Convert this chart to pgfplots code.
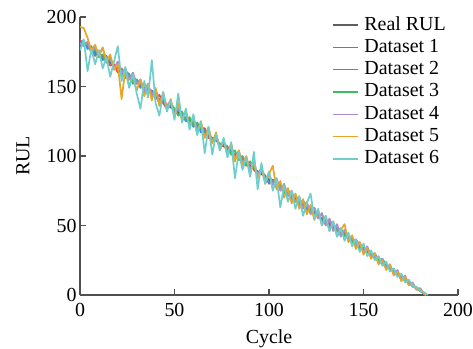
\documentclass[border=0pt]{standalone}
\usepackage{fontspec}
\setmainfont{Liberation Serif}
\usepackage{pgfplots}
\pgfplotsset{compat=1.18}
\definecolor{axgray}{RGB}{80,80,80}
\definecolor{cReal}{RGB}{95,95,95}
\definecolor{cA}{RGB}{235,75,70}
\definecolor{cB}{RGB}{58,143,219}
\definecolor{cC}{RGB}{60,190,90}
\definecolor{cD}{RGB}{170,140,210}
\definecolor{cE}{RGB}{232,165,40}
\definecolor{cF}{RGB}{110,205,205}
\newcommand\ff{\fontsize{20}{22}\selectfont}
\begin{document}
\begin{tikzpicture}
\begin{axis}[name=ax,
  scale only axis, width=378bp, height=278bp,
  xmin=0, xmax=200, ymin=0, ymax=200,
  axis x line*=bottom, axis y line*=left,
  tick align=inside, major tick length=6bp,
  xtick={0,50,...,200}, ytick={0,50,...,200},
  axis line style={draw=axgray, line width=1.3bp},
  tick style={draw=axgray, line width=1.3bp},
  /pgf/number format/assume math mode=true,
  tick label style={font=\ff, text=black},
  xticklabel style={yshift=-5bp},
  label style={font=\ff, text=black},
  xlabel={Cycle}, ylabel={RUL},
  xlabel style={at={(axis description cs:0.5,-0.158)}, anchor=center},
  ylabel style={at={(axis description cs:-0.151,0.5)}, anchor=center},
  legend style={draw=none, fill=none, font=\ff, inner sep=0pt, outer sep=0pt,
    at={(axis description cs:0.6667,1.011)}, anchor=north west,
    row sep=0pt, column sep=6bp,
    nodes={inner xsep=0pt, inner ysep=1.15bp, text height=15bp, text depth=5bp}},
  legend cell align=left,
  legend image code/.code={\draw[#1, line width=1.4bp] (0bp,0bp) -- (25bp,0bp);},
  every axis plot/.append style={line width=1.7bp, line join=round},
]
\addplot[cReal] coordinates {(0,183) (183,0)};
\addlegendentry{Real RUL}
\addplot[cA] coordinates {(0,184) (2,179) (4,182) (6,177) (8,172) (10,175) (12,170) (14,172) (16,165) (18,166) (20,160) (22,163) (24,159) (26,155) (28,158) (30,152) (32,153) (34,146) (36,148) (38,147) (40,141) (42,144) (44,138) (46,134) (48,137) (50,133) (52,134) (54,127) (56,128) (58,124) (60,125) (62,118) (64,120) (66,120) (68,113) (70,113) (72,113) (74,106) (76,108) (78,107) (80,102) (82,98) (84,101) (86,98) (88,93) (90,96) (92,90) (94,87) (96,89) (98,86) (100,80) (102,83) (104,78) (106,80) (108,73) (110,73) (112,73) (114,67) (116,68) (118,64) (120,65) (122,59) (124,60) (126,59) (128,54) (130,51) (132,53) (134,48) (136,48) (138,43) (140,45) (142,41) (144,38) (146,38) (148,33) (150,34) (152,32) (154,28) (156,28) (158,24) (160,23) (162,22) (164,18) (166,18) (168,15) (170,12) (172,12) (174,9) (176,6) (178,5) (180,3) (182,1) (183,0)};
\addlegendentry{Dataset 1}
\addplot[cB] coordinates {(0,181) (2,183) (4,177) (6,179) (8,173) (10,176) (12,169) (14,171) (16,169) (18,163) (20,165) (22,158) (24,161) (26,159) (28,152) (30,155) (32,149) (34,152) (36,145) (38,147) (40,144) (42,138) (44,141) (46,135) (48,137) (50,131) (52,133) (54,130) (56,125) (58,127) (60,121) (62,123) (64,117) (66,119) (68,116) (70,110) (72,113) (74,107) (76,109) (78,103) (80,105) (82,99) (84,101) (86,95) (88,97) (90,91) (92,93) (94,87) (96,89) (98,84) (100,81) (102,83) (104,77) (106,79) (108,73) (110,76) (112,69) (114,71) (116,65) (118,67) (120,61) (122,63) (124,57) (126,59) (128,53) (130,55) (132,49) (134,51) (136,46) (138,44) (140,44) (142,40) (144,40) (146,36) (148,36) (150,32) (152,32) (154,28) (156,28) (158,24) (160,24) (162,20) (164,20) (166,16) (168,16) (170,12) (172,12) (174,8) (176,8) (178,4) (180,4) (182,1) (183,0)};
\addlegendentry{Dataset 2}
\addplot[cC] coordinates {(0,180) (2,182) (4,180) (6,175) (8,177) (10,171) (12,173) (14,167) (16,170) (18,164) (20,166) (22,162) (24,156) (26,159) (28,153) (30,155) (32,152) (34,147) (36,149) (38,143) (40,146) (42,140) (44,142) (46,136) (48,138) (50,134) (52,129) (54,132) (56,126) (58,128) (60,122) (62,124) (64,120) (66,115) (68,118) (70,111) (72,114) (74,108) (76,110) (78,106) (80,101) (82,104) (84,97) (86,100) (88,94) (90,96) (92,92) (94,87) (96,90) (98,84) (100,86) (102,80) (104,82) (106,78) (108,74) (110,76) (112,70) (114,72) (116,66) (118,68) (120,64) (122,60) (124,62) (126,56) (128,58) (130,52) (132,54) (134,50) (136,46) (138,48) (140,42) (142,44) (144,38) (146,40) (148,36) (150,32) (152,34) (154,29) (156,30) (158,25) (160,26) (162,22) (164,18) (166,19) (168,14) (170,15) (172,10) (174,10) (176,7) (178,5) (180,3) (182,1) (183,0)};
\addlegendentry{Dataset 3}
\addplot[cD] coordinates {(0,181) (2,179) (4,182) (6,174) (8,178) (10,172) (12,178) (14,168) (16,171) (18,163) (20,168) (22,160) (24,163) (26,155) (28,160) (30,152) (32,155) (34,147) (36,152) (38,144) (40,148) (42,139) (44,143) (46,136) (48,140) (50,130) (52,135) (54,128) (56,131) (58,122) (60,127) (62,119) (64,123) (66,114) (68,118) (70,110) (72,115) (74,106) (76,111) (78,102) (80,108) (82,98) (84,104) (86,95) (88,99) (90,90) (92,96) (94,86) (96,92) (98,82) (100,88) (102,79) (104,84) (106,75) (108,80) (110,71) (112,75) (114,67) (116,71) (118,62) (120,67) (122,58) (124,63) (126,55) (128,59) (130,50) (132,55) (134,46) (136,51) (138,42) (140,47) (142,39) (144,42) (146,35) (148,38) (150,31) (152,35) (154,27) (156,30) (158,23) (160,26) (162,19) (164,22) (166,15) (168,18) (170,11) (172,14) (174,7) (176,9) (178,4) (180,5) (182,1) (183,0)};
\addlegendentry{Dataset 4}
\addplot[cE] coordinates {(0,193) (2,192) (4,185) (6,176) (8,180) (10,172) (12,178) (14,168) (16,173) (18,162) (20,166) (22,141) (24,162) (26,150) (28,158) (30,147) (32,155) (34,143) (36,152) (38,140) (40,149) (42,136) (44,146) (46,133) (48,141) (50,128) (52,138) (54,125) (56,133) (58,121) (60,128) (62,116) (64,125) (66,113) (68,121) (70,109) (72,117) (74,104) (76,112) (78,100) (80,109) (82,96) (84,104) (86,93) (88,100) (90,87) (92,96) (94,84) (96,91) (98,80) (100,87) (102,93) (104,76) (106,82) (108,70) (110,77) (112,66) (114,73) (116,62) (118,69) (120,58) (122,65) (124,54) (126,61) (128,50) (130,57) (132,46) (134,53) (136,42) (138,47) (140,51) (142,38) (144,43) (146,33) (148,38) (150,29) (152,34) (154,26) (156,30) (158,22) (160,25) (162,18) (164,22) (166,14) (168,17) (170,10) (172,13) (174,7) (176,8) (178,4) (180,4) (182,1) (183,0)};
\addlegendentry{Dataset 5}
\addplot[cF] coordinates {(0,176) (2,184) (4,161) (6,177) (8,166) (10,176) (12,163) (14,171) (16,157) (18,168) (20,179) (22,154) (24,164) (26,149) (28,159) (30,145) (32,134) (34,154) (36,142) (38,169) (40,138) (42,129) (44,146) (46,132) (48,140) (50,126) (52,145) (54,124) (56,134) (58,119) (60,130) (62,115) (64,125) (66,102) (68,121) (70,101) (72,116) (74,104) (76,113) (78,99) (80,110) (82,84) (84,103) (86,90) (88,99) (90,85) (92,103) (94,76) (96,95) (98,80) (100,89) (102,75) (104,84) (106,63) (108,79) (110,67) (112,75) (114,62) (116,71) (118,57) (120,66) (122,73) (124,55) (126,62) (128,50) (130,57) (132,46) (134,53) (136,42) (138,48) (140,39) (142,45) (144,35) (146,40) (148,31) (150,37) (152,28) (154,32) (156,25) (158,28) (160,21) (162,24) (164,17) (166,19) (168,13) (170,15) (172,9) (174,11) (176,6) (178,6) (180,3) (182,2) (184,0)};
\addlegendentry{Dataset 6}
\end{axis}
\pgfresetboundingbox
\path ([xshift=-80bp,yshift=-54bp]ax.south west) rectangle ([xshift=15bp,yshift=17bp]ax.north east);
\end{tikzpicture}
\end{document}
